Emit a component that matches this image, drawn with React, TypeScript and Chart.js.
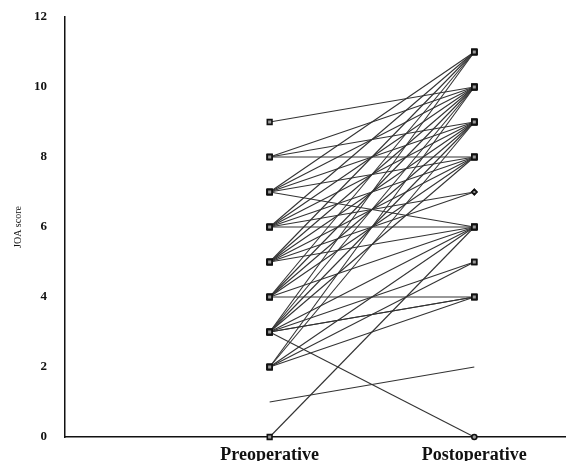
import React, { useEffect, useRef } from "react";
import { Chart, registerables } from "chart.js";

Chart.register(...registerables);

const categories = ["Preoperative", "Postoperative"];
const yTicks = [0, 2, 4, 6, 8, 10, 12];
// Each patient: preoperative score and postoperative score
const preScores = [
  9, 8, 8, 8,
  7, 7, 7, 7, 7,
  6, 6, 6, 6, 6, 6,
  5, 5, 5, 5, 5, 5,
  4, 4, 4, 4, 4, 4,
  3, 3, 3, 3, 3, 3, 3, 3, 3,
  2, 2, 2, 2, 2,
  1, 0,
];
const postScores = [
  10, 8, 9, 10,
  6, 8, 9, 10, 11,
  6, 7, 8, 9, 10, 11,
  6, 7, 8, 9, 10, 11,
  4, 6, 8, 9, 10, 11,
  0, 4, 4, 5, 6, 8, 9, 10, 11,
  4, 6, 9, 10, 5,
  2, 6,
];

export default function App() {
  const ref = useRef<HTMLCanvasElement>(null);
  useEffect(() => {
    document.body.style.margin = "0";
    document.body.style.overflow = "hidden";
    const canvas = ref.current!;
    const datasets: any[] = preScores.map((pre, i) => ({
      label: "p" + i,
      data: [
        { x: 1, y: pre },
        { x: 2, y: postScores[i] },
      ],
      borderColor: "#333333",
      borderWidth: 1.1,
      clip: false,
      pointStyle: (ctx: any) => {
        const v = ctx.raw?.y;
        if (ctx.dataIndex === 1 && v === 7) return "rectRot";
        if (ctx.dataIndex === 1 && v === 0) return "circle";
        return "rect";
      },
      pointRadius: (ctx: any) => {
        const v = ctx.raw?.y;
        if (ctx.dataIndex === 0 && v === 1) return 0;
        if (ctx.dataIndex === 1 && v === 2) return 0;
        if (ctx.dataIndex === 1 && (v === 7 || v === 0)) return 2.5;
        return 3.3;
      },
      pointBackgroundColor: "#9a9a9a",
      pointBorderColor: "#111",
      pointBorderWidth: 1.6,
      showLine: true,
    }));
    const serif = "'Liberation Serif', 'DejaVu Serif', serif";
    const zeroPad = (s: any) => {
      s.paddingLeft = 0;
      s.paddingRight = 0;
      s.paddingTop = 0;
      s.paddingBottom = 0;
    };
    const chart = new Chart(canvas, {
      type: "scatter",
      data: { datasets },
      options: {
        animation: false,
        responsive: false,
        layout: { padding: { top: 17, right: 0, bottom: 0, left: 0 } },
        plugins: { legend: { display: false }, tooltip: { enabled: false } },
        scales: {
          x: {
            type: "linear",
            min: 0,
            max: 2.45,
            afterBuildTicks: (s: any) => {
              s.ticks = categories.map((_, i) => ({ value: i + 1 }));
            },
            afterFit: (s: any) => {
              s.height = 24;
              zeroPad(s);
            },
            grid: { display: false, drawTicks: false },
            border: { display: true, color: "#111", width: 1.5 },
            ticks: {
              padding: 8,
              maxRotation: 0,
              autoSkip: false,
              color: "#111",
              font: { family: serif, size: 18, weight: "bold" },
              callback: (v: any) => categories[Number(v) - 1] ?? "",
            },
          },
          y: {
            min: 0,
            max: 12,
            afterBuildTicks: (s: any) => {
              s.ticks = yTicks.map((v) => ({ value: v }));
            },
            afterFit: (s: any) => {
              s.width = 65;
              zeroPad(s);
            },
            grid: { display: false, drawTicks: false },
            border: { display: true, color: "#111", width: 1.5 },
            ticks: {
              padding: 18,
              color: "#111",
              font: { family: serif, size: 13, weight: "bold" },
            },
            title: {
              display: true,
              text: "JOA score",
              color: "#111",
              padding: { top: 12, bottom: 0 },
              font: { family: serif, size: 10 },
            },
          },
        },
      },
    });
    return () => chart.destroy();
  }, []);
  return <canvas ref={ref} width={572} height={461} style={{ display: "block" }} />;
}
